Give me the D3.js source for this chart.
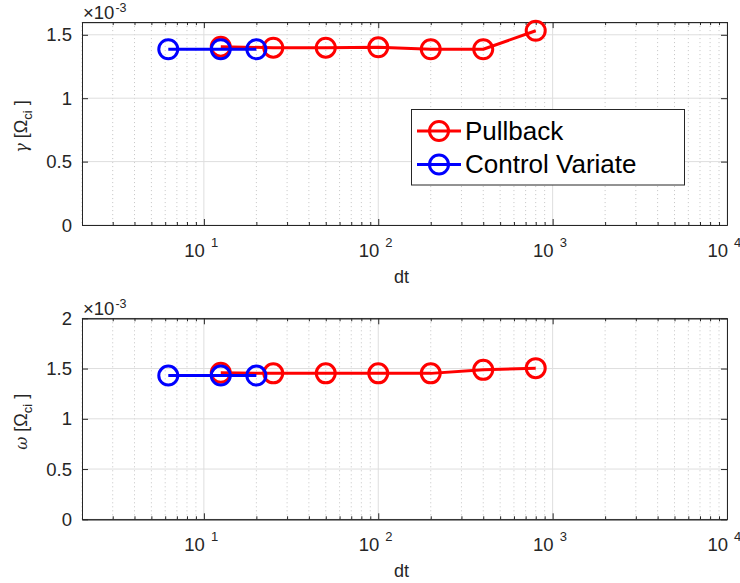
<!DOCTYPE html>
<html><head><meta charset="utf-8">
<script src="https://cdn.jsdelivr.net/npm/d3@7"></script>
<style>
body{margin:0;background:#fff}
svg{display:block}
text{font-family:"Liberation Sans",Arial,Helvetica,sans-serif;fill:#262626}
</style>
</head><body>
<svg id="c" width="740" height="583"></svg>
<script>
// ---- data (y values in units of 1e-3 Ω_ci) ----
const pullbackDt = [12.5, 25, 50, 100, 200, 400, 800];
const pullbackGamma = [1.406, 1.398, 1.398, 1.401, 1.386, 1.386, 1.532];
const pullbackOmega = [1.458, 1.452, 1.452, 1.452, 1.452, 1.487, 1.504];
const cvDt = [6.25, 12.5, 20];
const cvGamma = [1.386, 1.386, 1.386];
const cvOmega = [1.430, 1.430, 1.430];
const xDomain = [2, 10000];
const xMajorTicks = [10, 100, 1000, 10000];
const xMajorExps = ["1", "2", "3", "4"];
const gammaTicks = [0, 0.5, 1, 1.5];
const gammaTickLabels = ["0", "0.5", "1", "1.5"];
const omegaTicks = [0, 0.5, 1, 1.5, 2];
const omegaTickLabels = ["0", "0.5", "1", "1.5", "2"];
const seriesNames = ["Pullback", "Control Variate"];
const seriesColors = ["#ff0000", "#0000ff"];
const xLabel = "dt";
const expLabel = "-3";

const svg = d3.select("#c");
const L = 82, R = 727;
const axisCol = "#262626";

function panel(cfg) {
  const g = svg.append("g");
  const x = d3.scaleLog().domain(xDomain).range([L, R]);
  const y = d3.scaleLinear().domain(cfg.yDomain).range([cfg.bottom, cfg.top]);
  const allX = x.ticks();
  const minor = allX.filter(v => !xMajorTicks.includes(v));

  // minor x grid (dotted)
  g.append("g").selectAll("line").data(minor).join("line")
    .attr("x1", d => x(d)).attr("x2", d => x(d))
    .attr("y1", cfg.top).attr("y2", cfg.bottom)
    .attr("stroke", "#c4c4c4").attr("stroke-width", 1)
    .attr("stroke-dasharray", "1,3");
  // major x grid
  g.append("g").selectAll("line").data(xMajorTicks).join("line")
    .attr("x1", d => x(d)).attr("x2", d => x(d))
    .attr("y1", cfg.top).attr("y2", cfg.bottom)
    .attr("stroke", "#dedede").attr("stroke-width", 1);
  // major y grid
  g.append("g").selectAll("line").data(cfg.yTicks).join("line")
    .attr("x1", L).attr("x2", R)
    .attr("y1", d => y(d)).attr("y2", d => y(d))
    .attr("stroke", "#dedede").attr("stroke-width", 1);

  // axes (ticks inward)
  const styleAxis = sel => {
    sel.selectAll("path").attr("stroke", axisCol).attr("stroke-width", 1);
    sel.selectAll("line").attr("stroke", axisCol).attr("stroke-width", 1);
    sel.selectAll("text").remove();
  };
  g.append("g").attr("transform", `translate(0,${cfg.bottom})`)
    .call(d3.axisBottom(x).tickValues(minor).tickSize(-3).tickSizeOuter(0).tickFormat("")).call(styleAxis);
  g.append("g").attr("transform", `translate(0,${cfg.bottom})`)
    .call(d3.axisBottom(x).tickValues(xMajorTicks).tickSize(-6).tickSizeOuter(0).tickFormat("")).call(styleAxis);
  g.append("g").attr("transform", `translate(0,${cfg.top})`)
    .call(d3.axisTop(x).tickValues(minor).tickSize(-3).tickSizeOuter(0).tickFormat("")).call(styleAxis);
  g.append("g").attr("transform", `translate(0,${cfg.top})`)
    .call(d3.axisTop(x).tickValues(xMajorTicks).tickSize(-6).tickSizeOuter(0).tickFormat("")).call(styleAxis);
  g.append("g").attr("transform", `translate(${L},0)`)
    .call(d3.axisLeft(y).tickValues(cfg.yTicks).tickSize(-6).tickSizeOuter(0).tickFormat("")).call(styleAxis);
  g.append("g").attr("transform", `translate(${R},0)`)
    .call(d3.axisRight(y).tickValues(cfg.yTicks).tickSize(-6).tickSizeOuter(0).tickFormat("")).call(styleAxis);

  // y tick labels
  g.append("g").selectAll("text").data(cfg.yTicks).join("text")
    .attr("x", L - 10).attr("y", d => y(d) + 6.5)
    .attr("text-anchor", "end").style("font-size", "18.5px")
    .text((d, i) => cfg.yTickLabels[i]);

  // x tick labels 10^n
  g.append("g").selectAll("text").data(xMajorTicks).join("text")
    .attr("x", d => x(d) + 1).attr("y", cfg.bottom + 32)
    .attr("text-anchor", "end").style("font-size", "18.5px").text("10");
  g.append("g").selectAll("text").data(xMajorTicks).join("text")
    .attr("x", d => x(d) + 7).attr("y", cfg.bottom + 22)
    .style("font-size", "13px").text((d, i) => xMajorExps[i]);

  // x label
  g.append("text").attr("x", (L + R) / 2 - 3).attr("y", cfg.bottom + 58)
    .attr("text-anchor", "middle").style("font-size", "18px").text(xLabel);

  // exponent label ×10^-3
  const ex = g.append("text").attr("x", L + 1).attr("y", cfg.top - 3.5).style("font-size", "18.5px");
  ex.append("tspan").text("×10");
  ex.append("tspan").attr("dx", 1).attr("dy", -7).style("font-size", "12.5px").text(expLabel);

  // y label
  const cy = (cfg.top + cfg.bottom) / 2 + 3;
  const yl = g.append("text").attr("transform", `translate(27,${cy}) rotate(-90)`)
    .attr("text-anchor", "middle").style("font-size", "18px");
  yl.append("tspan").style("font-family", "'DejaVu Serif',serif").style("font-style", "italic").style("font-size", "16px").text(cfg.sym);
  yl.append("tspan").text(" [Ω");
  yl.append("tspan").attr("dy", 5).style("font-size", "13px").text("ci");
  yl.append("tspan").attr("dy", -5).text(" ]");

  // series
  const line = d3.line().x(d => x(d[0])).y(d => y(d[1]));
  cfg.series.forEach((s, si) => {
    const pts = s.xs.map((v, i) => [v, s.ys[i]]);
    g.append("path").datum(pts).attr("d", line)
      .attr("fill", "none").attr("stroke", seriesColors[si]).attr("stroke-width", 3)
      .attr("stroke-linejoin", "round");
    g.append("g").selectAll("circle").data(pts).join("circle")
      .attr("cx", d => x(d[0])).attr("cy", d => y(d[1])).attr("r", 9.5)
      .attr("fill", "none").attr("stroke", seriesColors[si]).attr("stroke-width", 3);
  });
  return g;
}

panel({
  top: 22.1, bottom: 225, yDomain: [0, 1.6], yTicks: gammaTicks, yTickLabels: gammaTickLabels,
  sym: "γ",
  series: [{xs: pullbackDt, ys: pullbackGamma}, {xs: cvDt, ys: cvGamma}]
});
panel({
  top: 318.3, bottom: 519.3, yDomain: [0, 2], yTicks: omegaTicks, yTickLabels: omegaTickLabels,
  sym: "ω",
  series: [{xs: pullbackDt, ys: pullbackOmega}, {xs: cvDt, ys: cvOmega}]
});

// legend (top panel)
const lg = svg.append("g");
lg.append("rect").attr("x", 411.5).attr("y", 109.5).attr("width", 273).attr("height", 75.5)
  .attr("fill", "#fff").attr("stroke", axisCol).attr("stroke-width", 1);
const legendY = [131, 164.5];
seriesNames.forEach((name, i) => {
  lg.append("line").attr("x1", 417).attr("x2", 461).attr("y1", legendY[i]).attr("y2", legendY[i])
    .attr("stroke", seriesColors[i]).attr("stroke-width", 3);
  lg.append("circle").attr("cx", 439).attr("cy", legendY[i]).attr("r", 9.5)
    .attr("fill", "none").attr("stroke", seriesColors[i]).attr("stroke-width", 3);
  lg.append("text").attr("x", 465).attr("y", legendY[i] + 8.5)
    .style("font-size", "26px").style("fill", "#000").text(name);
});
</script>
</body></html>
